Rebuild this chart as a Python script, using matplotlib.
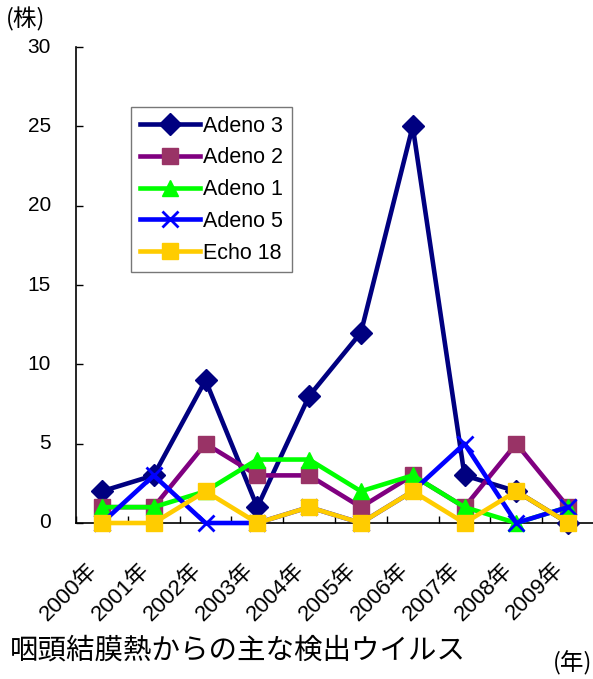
import matplotlib
matplotlib.use("Agg")
import matplotlib.pyplot as plt
import matplotlib.transforms as mtransforms
import numpy as np

plt.rcParams['font.family'] = ['Liberation Sans', 'Noto Sans CJK JP']

years = ["2000年", "2001年", "2002年", "2003年", "2004年",
         "2005年", "2006年", "2007年", "2008年", "2009年"]
adeno3 = [2, 3, 9, 1, 8, 12, 25, 3, 2, 0]
adeno2 = [1, 1, 5, 3, 3, 1, 3, 1, 5, 1]
adeno1 = [1, 1, 2, 4, 4, 2, 3, 1, 0, 1]
adeno5 = [0, 3, 0, 0, 1, 0, 2, 5, 0, 1]
echo18 = [0, 0, 2, 0, 1, 0, 2, 0, 2, 0]
y_ticks = [0, 5, 10, 15, 20, 25, 30]

fig = plt.figure(figsize=(5.93, 6.79), dpi=100)
ax = fig.add_axes([76 / 593, 1 - 523 / 679, (594 - 76) / 593, 476 / 679])

x = np.arange(len(years))
series = [
    ("Adeno 3", adeno3, "#000080", "#000080", "D", 11),
    ("Adeno 2", adeno2, "#800080", "#993366", "s", 11.5),
    ("Adeno 1", adeno1, "#00FF00", "#00FF00", "^", 12),
    ("Adeno 5", adeno5, "#0000FF", "#0000FF", "x", 11),
    ("Echo 18", echo18, "#FFCC00", "#FFCC00", "s", 11),
]
for i, (name, vals, lc, mc, mk, ms) in enumerate(series):
    ax.plot(x, vals, color=lc, lw=3.3, marker=mk, markersize=ms,
            markerfacecolor=mc, markeredgecolor=mc,
            markeredgewidth=2 if mk == "x" else 1,
            label=name, zorder=3 + i, clip_on=False)

ax.set_xlim(-0.5, len(years) - 0.5)
ax.set_ylim(0, 30)
ax.set_xticks(x)
ax.set_xticklabels(years, rotation=45, ha='right', va='top', fontsize=16)
shift = mtransforms.ScaledTranslation(4 / 100, 0, fig.dpi_scale_trans)
for lbl in ax.get_xticklabels():
    lbl.set_transform(lbl.get_transform() + shift)
ax.tick_params(axis='x', length=0, pad=26)
ax.set_xticks(np.arange(-0.5, len(years), 1), minor=True)
ax.tick_params(axis='x', which='minor', direction='in', length=5, width=1)

# y tick marks inside the axes, numbers placed well to the left of the spine
ax.set_yticks(y_ticks)
ax.set_yticklabels([])
ax.tick_params(axis='y', direction='in', length=5, width=1)
ylab = mtransforms.blended_transform_factory(fig.transFigure, ax.transData)
for v in y_ticks:
    ax.text(51 / 593, v, str(v), transform=ylab, ha='right', va='center',
            fontsize=15)

for s in ['top', 'right']:
    ax.spines[s].set_visible(False)
for s in ['left', 'bottom']:
    ax.spines[s].set_linewidth(1.2)

leg = ax.legend(loc='upper left', bbox_to_anchor=((131 - 76) / 518, (523 - 107) / 476),
                fontsize=15.5, frameon=True, fancybox=False, edgecolor='#555555',
                handlelength=2.8, borderpad=0.4, labelspacing=0.5,
                handletextpad=0.15, borderaxespad=0)
leg.get_frame().set_linewidth(1.0)

fig.text(6 / 593, 1 - 19 / 679, "(株)", fontsize=17, va='center', ha='left',
         family='Noto Sans CJK JP')
fig.text(10 / 593, 1 - 651 / 679, "咽頭結膜熱からの主な検出ウイルス", fontsize=20.5,
         va='center', ha='left')
fig.text(592 / 593, 1 - 663 / 679, "(年)", fontsize=17, va='center', ha='right',
         family='Noto Sans CJK JP')

fig.savefig("out.png", dpi=100)
